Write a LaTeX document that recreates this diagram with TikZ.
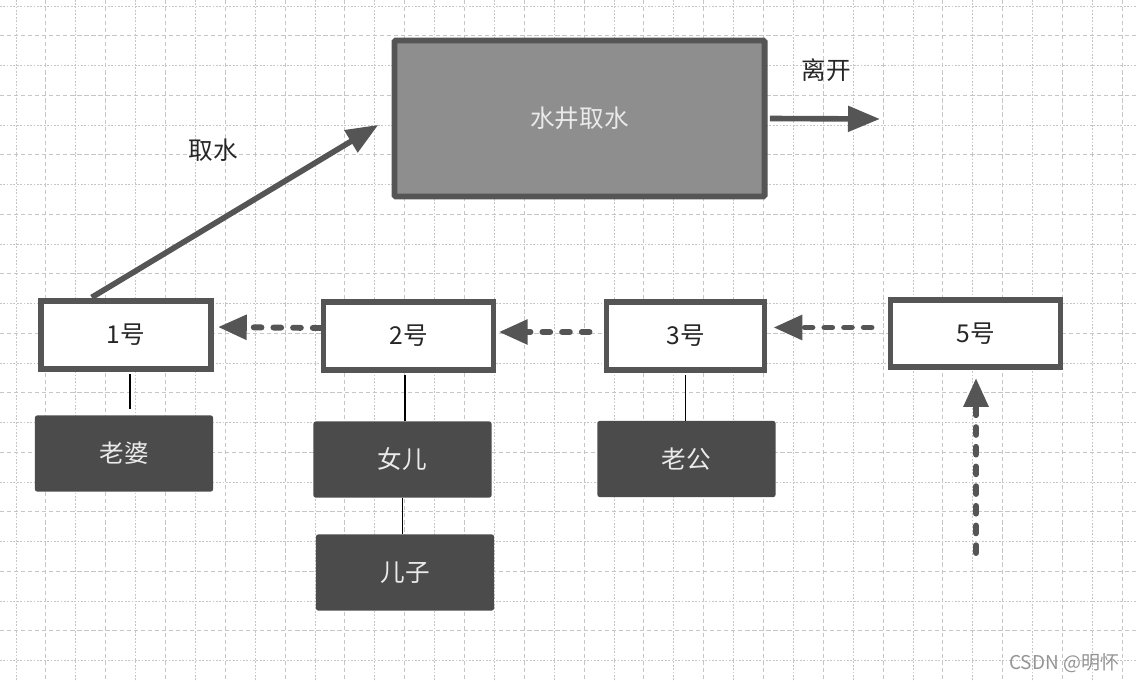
\documentclass[tikz,border=0pt]{standalone}
\usepackage{fontspec}
\newfontfamily\cjk{Noto Sans CJK SC}
\usetikzlibrary{positioning,calc,arrows.meta}
\definecolor{wellgray}{HTML}{8E8E8E}
\definecolor{edgegray}{HTML}{555555}
\definecolor{darkbox}{HTML}{4B4B4B}
\definecolor{gridgray}{HTML}{C6C6C6}
\definecolor{softwhite}{HTML}{EAEAEA}

\tikzset{
	person/.style={draw=edgegray, line width=4.2pt, fill=white, minimum width=4.25cm, minimum height=1.68cm, font=\cjk\fontsize{17.5}{20}\selectfont, text=black!85},
	family/.style={fill=darkbox, rounded corners=1.5pt, minimum width=4.45cm, minimum height=1.9cm, font=\cjk\fontsize{17.5}{20}\selectfont, text=softwhite},
	lbl/.style={font=\cjk\fontsize{17.5}{20}\selectfont, text=black!85},
	solidarr/.style={edgegray, line width=4pt, -{Triangle[length=0.8cm,width=0.62cm]}},
	waitarr/.style={edgegray, line width=4.2pt, line cap=round, dash pattern=on 5.5pt off 8.5pt, -{Triangle[length=0.72cm,width=0.6cm]}},
	link/.style={black, line width=1.3pt},
}

\begin{document}
\begin{tikzpicture}[x=0.025cm,y=-0.025cm]
	\useasboundingbox (0,0) rectangle (1137,682);
	
	% grid paper
	\foreach \x in {16,75.8,...,1137} \draw[gridgray, line width=0.6pt, dash pattern=on 1.2pt off 1.2pt] (\x,0) -- (\x,682);
	\foreach \x in {45.9,105.7,...,1137} \draw[gridgray, line width=0.6pt, dash pattern=on 3pt off 2pt] (\x,0) -- (\x,682);
	\foreach \y in {6,65.5,...,682} \draw[gridgray, line width=0.6pt, dash pattern=on 1.2pt off 1.2pt] (0,\y) -- (1137,\y);
	\foreach \y in {35.75,95.25,...,682} \draw[gridgray, line width=0.6pt, dash pattern=on 3pt off 2pt] (0,\y) -- (1137,\y);
	
	\node[draw=edgegray, line width=4.2pt, fill=wellgray, rounded corners=1pt, minimum width=9.25cm, minimum height=3.9cm, font=\cjk\fontsize{17.5}{20}\selectfont, text=softwhite] (well) at (579.5,118.5) {水井取水};
	
	\node[person] (b1) at (126,335) {1号};
	\node[person] (b2) at (408.5,336) {2号};
	\node[person, minimum width=3.95cm] (b3) at (685.5,336) {3号};
	\node[person] (b5) at (975.5,333.5) {5号};
	
	\node[family] (laopo) at (124,453.5) {老婆};
	\node[family] (nver) at (402.5,459.5) {女儿};
	\node[family] (erzi) at (405,572.5) {儿子};
	\node[family] (laogong) at (686.5,459) {老公};
	
	\node[lbl] (qushui) at (213,150) {取水};
	\node[lbl] (likai) at (826,70) {离开};
	
	\coordinate (fetch) at ([xshift=-0.33cm,yshift=-0.16cm]well.west);
	\coordinate (exit) at (880,119);
	\coordinate (queue) at (976,553);
	
	%\draw[solidarr] (b1.north) -- (well.west);
	\draw[solidarr, shorten <=0.05cm] ([xshift=-0.9cm]b1.north) -- (fetch);
	\draw[solidarr, shorten <=0.06cm] (well.east) -- (exit);
	
	\draw[waitarr, shorten >=0.1cm] ([yshift=0.2cm]b2.west) -- ([yshift=0.2cm]b1.east);
	\draw[waitarr, shorten <=0.35cm, shorten >=0.06cm] ([yshift=0.1cm]b3.west) -- ([yshift=0.1cm]b2.east);
	\draw[waitarr, shorten <=0.4cm, shorten >=0.15cm] ([yshift=0.15cm]b5.west) -- ([yshift=0.15cm]b5.west -| b3.east);
	\draw[waitarr, shorten >=0.2cm] (queue) -- (queue |- b5.south);
	
	\draw[link, shorten <=0.06cm, shorten >=0.15cm] ([xshift=0.1cm]b1.south) -- ([xshift=0.1cm]b1.south |- laopo.north);
	\draw[link, shorten <=0.06cm] ([xshift=-0.08cm]b2.south) -- ([xshift=-0.08cm]b2.south |- nver.north);
	\draw[link] (nver.south) -- (nver.south |- erzi.north);
	\draw[link, shorten <=0.06cm] (b3.south) -- (b3.south |- laogong.north);
	
	\node[font=\cjk\fontsize{13.5}{16}\selectfont, text=black!42, anchor=east] (mark) at (1124,663) {CSDN @明怀};
\end{tikzpicture}
\end{document}
